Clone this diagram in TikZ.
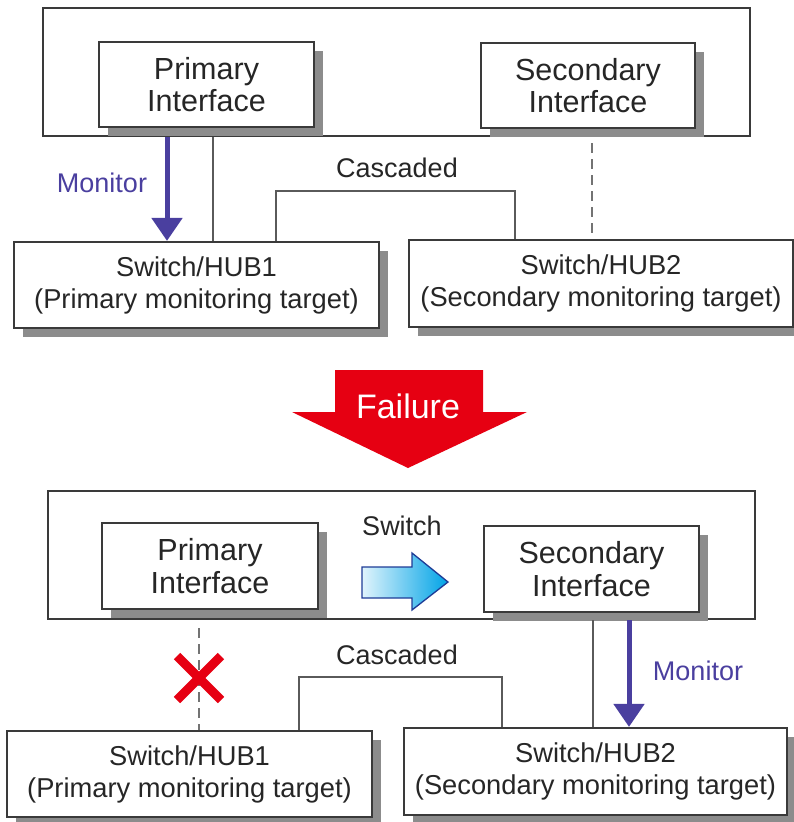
\documentclass[tikz,border=0pt]{standalone}
\usepackage{fontspec}
\setmainfont{Liberation Sans}
\usetikzlibrary{arrows.meta,shadows}
\definecolor{txt}{HTML}{262626}
\definecolor{edge}{HTML}{3A3A3A}
\definecolor{conn}{HTML}{5A5A5A}
\definecolor{shade}{HTML}{8C8C8C}
\definecolor{mon}{HTML}{4A3F9F}
\definecolor{fail}{HTML}{E60012}
\definecolor{swblue}{HTML}{00A3E6}
\definecolor{swedge}{HTML}{1E3C96}
\begin{document}
\begin{tikzpicture}[x=1pt,y=-1pt,
  container/.style={draw=edge, line width=2.2pt, inner sep=0pt},
  boxshadow/.style={drop shadow={shadow xshift=9pt, shadow yshift=-9pt, fill=shade, opacity=1}},
  ifbox/.style={draw=edge, line width=2.2pt, fill=white, inner sep=0pt, align=center, text=txt,
     font=\fontsize{30.5}{32.5}\selectfont, boxshadow},
  hubbox/.style={draw=edge, line width=2.2pt, fill=white, inner sep=0pt, align=center, text=txt,
     font=\fontsize{27.3}{32}\selectfont, boxshadow},
  connline/.style={draw=conn, line width=2.2pt},
  dashline/.style={draw=conn!85, line width=2.6pt, dash pattern=on 10pt off 6pt},
  monarrow/.style={draw=mon, line width=5pt, -{Triangle[width=30pt,length=23pt]}},
  lbl/.style={text=txt, font=\fontsize{27}{30}\selectfont, inner sep=0pt},
  monlbl/.style={text=mon, font=\fontsize{27}{30}\selectfont, inner sep=0pt}
]
\useasboundingbox (0,0) rectangle (794,822);

% ---------- upper scene ----------
\node[container, minimum width=707pt, minimum height=128pt] (sys1) at (396.5,72) {};
\node[ifbox, minimum width=215pt, minimum height=85pt] (pri1) at (206.5,84.5) {Primary\\Interface};
\node[ifbox, minimum width=214pt, minimum height=85pt] (sec1) at (588,85.5) {Secondary\\Interface};
\node[hubbox, minimum width=365pt, minimum height=86pt] (hub1a) at (196.5,285) {Switch/HUB1\\(Primary monitoring target)};
\node[hubbox, minimum width=384pt, minimum height=87pt] (hub2a) at (601,283.5) {Switch/HUB2\\(Secondary monitoring target)};

\coordinate (xm1) at (167,0);
\coordinate (xl1) at (213,0);
\coordinate (xd1) at (592,0);
\coordinate (c1a) at (276,191);
\coordinate (c1b) at (515,191);
\draw[monarrow] (xm1 |- sys1.south) -- (xm1 |- hub1a.north);
\draw[connline] (xl1 |- sys1.south) -- (xl1 |- hub1a.north);
\draw[connline] (c1a |- hub1a.north) -- (c1a) -- (c1b) -- (c1b |- hub2a.north);
\draw[dashline] ([yshift=-6pt]xd1 |- sys1.south) -- (xd1 |- hub2a.north);
\node[monlbl] (mon1) at (102,183) {Monitor};
\node[lbl] (cas1) at (397,168) {Cascaded};

% ---------- failure arrow ----------
\fill[fail] (335,370) -- (483,370) -- (483,412) -- (527,412) -- (408,468) -- (292,412) -- (335,412) -- cycle;
\node[text=white, font=\fontsize{34}{36}\selectfont, inner sep=0pt] (failtxt) at (408,406) {Failure};

% ---------- lower scene ----------
\node[container, minimum width=707pt, minimum height=128pt] (sys2) at (401.5,555) {};
\node[ifbox, minimum width=216pt, minimum height=86pt] (pri2) at (210,566) {Primary\\Interface};
\node[ifbox, minimum width=215pt, minimum height=86pt] (sec2) at (591.5,569) {Secondary\\Interface};
\node[hubbox, minimum width=365pt, minimum height=86pt] (hub1b) at (189.5,774) {Switch/HUB1\\(Primary monitoring target)};
\node[hubbox, minimum width=383pt, minimum height=87pt] (hub2b) at (595.5,771.5) {Switch/HUB2\\(Secondary monitoring target)};

\node[lbl] (swlbl) at (402,526) {Switch};
\shadedraw[left color=white!88!swblue, right color=swblue, draw=swedge, line width=1.3pt]
  (362,567) -- (412,567) -- (412,553) -- (448,582) -- (412,610) -- (412,598) -- (362,598) -- cycle;

\coordinate (xd2) at (199,0);
\coordinate (xl2) at (593,0);
\coordinate (xm2) at (629,0);
\coordinate (c2a) at (299,677);
\coordinate (c2b) at (502,677);
\draw[dashline] ([yshift=-8pt]xd2 |- sys2.south) -- (xd2 |- hub1b.north);
\draw[fail, line width=9pt] (177,656) -- (221,700);
\draw[fail, line width=9pt] (177,700) -- (221,656);
\draw[connline] (c2a |- hub1b.north) -- (c2a) -- (c2b) -- (c2b |- hub2b.north);
\draw[connline] (xl2 |- sys2.south) -- (xl2 |- hub2b.north);
\draw[monarrow] (xm2 |- sys2.south) -- (xm2 |- hub2b.north);
\node[monlbl] (mon2) at (698,671) {Monitor};
\node[lbl] (cas2) at (397,655) {Cascaded};
\end{tikzpicture}
\end{document}
